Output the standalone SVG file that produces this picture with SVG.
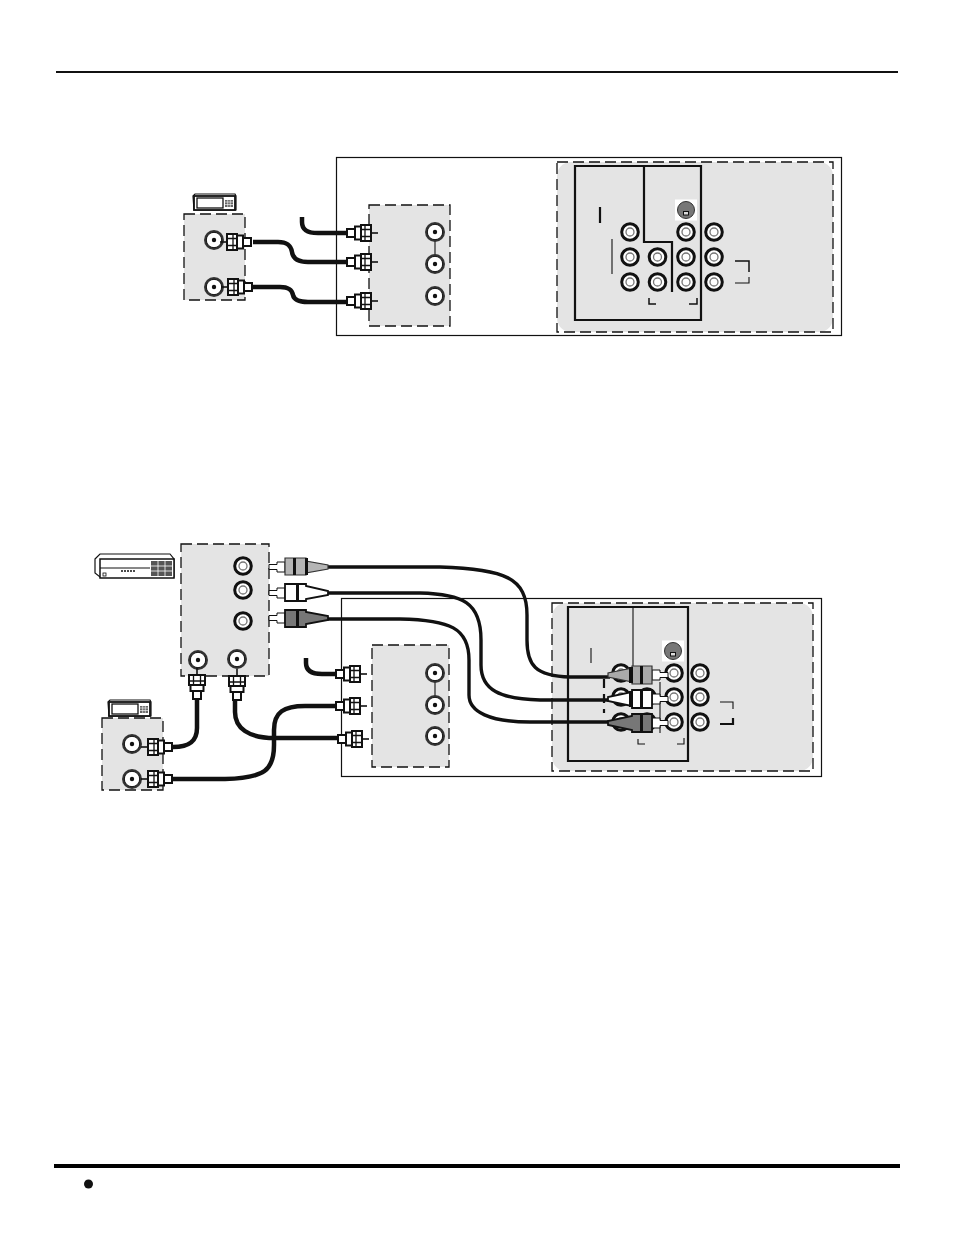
<svg xmlns="http://www.w3.org/2000/svg" width="954" height="1235" viewBox="0 0 954 1235">
<style>
.panel{fill:#e4e4e4;stroke:none}
.dash{fill:none;stroke:#111;stroke-width:1.300;stroke-dasharray:11 5}
.box{fill:none;stroke:#111;stroke-width:1.200}
.thick{fill:none;stroke:#111;stroke-width:2.200}
.thin{fill:none;stroke:#111;stroke-width:1.100}
.cable{fill:none;stroke:#111;stroke-width:4.500;stroke-linecap:butt}
.cablet{fill:none;stroke:#111;stroke-width:3.400;stroke-linecap:butt}
.part{fill:#fff;stroke:#111;stroke-width:2}
</style>
<defs>
<g id="rca"><circle r="8.300" fill="#fff" stroke="#111" stroke-width="3"/><circle r="4" fill="#fff" stroke="#777" stroke-width="1.300"/></g>
<g id="coax"><circle r="10" fill="#333"/><circle r="7.700" fill="#fff" stroke="#111" stroke-width="1"/><circle r="2.200" fill="#111"/></g>
<g id="fconn">
<rect x="0" y="-4" width="8" height="8" class="part"/>
<rect x="8" y="-6.500" width="6" height="13" class="part"/>
<rect x="14" y="-8" width="10" height="16" class="part"/>
<path d="M14-3.500H24M14 3.500H24M18-8V8" fill="none" stroke="#111" stroke-width="1.300"/>
<path d="M24 0H31" stroke="#111" stroke-width="1.600"/>
</g>
<g id="svid"><rect x="-11" y="-10.500" width="22" height="21" fill="#fff"/><circle r="8.500" fill="#777" stroke="#333"/><rect x="-2.500" y="1.500" width="5" height="3.500" fill="#ddd" stroke="#111"/></g>
<g id="plugpins"><path d="M0-2.500H8V-5H16V5H8V2.500H0Z" fill="#fff" stroke="#111" stroke-width="1"/></g>
<g id="tuner">
<path d="M0 2L2 0H42L43 2V16H1Z" fill="#fff" stroke="#111" stroke-width="1.200"/>
<rect x="1" y="2" width="41" height="14" fill="#fff" stroke="#111" stroke-width="1.800"/>
<rect x="4" y="4" width="26" height="10" fill="#fff" stroke="#111" stroke-width="1.300"/>
<rect x="32" y="6" width="8" height="7" fill="#666"/>
<path d="M32 8H40M32 10.500H40M34.700 6V13M37.300 6V13" stroke="#fff" stroke-width=".6"/>
</g>
</defs>
<rect width="954" height="1235" fill="#fff"/>
<g id="header-rule"><rect x="56" y="71" width="842" height="2" fill="#111"/></g>
<g id="footer-rule"><rect x="54" y="1164" width="846" height="4" fill="#000"/></g>
<g id="footer-bullet"><circle cx="88.500" cy="1184" r="4.500" fill="#111"/></g>

<g id="tv-top-frame"><rect x="336.500" y="157.500" width="505" height="178" class="box"/></g>
<g id="tuner-top"><use href="#tuner" x="193" y="194"/></g>
<g id="input-panel-top">
<rect x="184" y="214" width="61" height="86" class="panel"/><rect x="184" y="214" width="61" height="86" class="dash"/>
<use href="#coax" x="214" y="240"/><use href="#coax" x="214" y="287"/>
</g>
<g id="antenna-panel-top">
<rect x="369" y="205" width="81" height="121" class="panel"/><rect x="369" y="205" width="81" height="121" class="dash"/>
<path d="M435 232V264" class="thin"/>
<use href="#coax" x="435" y="232"/><use href="#coax" x="435" y="264"/><use href="#coax" x="435" y="296"/>
</g>
<g id="tv-jacks-top">
<rect x="557" y="162" width="276" height="170" rx="14" class="panel"/><rect x="557" y="162" width="276" height="170" class="dash"/>
<path d="M575 166H701V320H575Z" class="thick"/>
<path d="M644 166V242H672V292" class="thick"/>
<path d="M600 207V223" class="thick"/>
<path d="M612 239V274" class="thin"/>
<path d="M735 261H749V272" class="thick" style="stroke-width:1.500"/><path d="M735 283H749V277" class="thin"/>
<path d="M649 298V304H656" class="thick" style="stroke-width:1.500"/><path d="M689 304H697V298" class="thick" style="stroke-width:1.500"/>
<use href="#svid" x="686" y="210"/>
<use href="#rca" x="630" y="232"/><use href="#rca" x="686" y="232"/><use href="#rca" x="714" y="232"/>
<use href="#rca" x="630" y="257"/><use href="#rca" x="657.500" y="257"/><use href="#rca" x="686" y="257"/><use href="#rca" x="714" y="257"/>
<use href="#rca" x="630" y="282"/><use href="#rca" x="657.500" y="282"/><use href="#rca" x="686" y="282"/><use href="#rca" x="714" y="282"/>
</g>

<g id="connectors-top">
<path d="M302 217V222C302 231 309 233 318 233H347" class="cable"/>
<path d="M253 242H278C288 242 291 246 292 252C293 259 298 262 308 262H347" class="cable"/>
<path d="M253 287H280C289 287 292 290 293 295C294 300 299 302 308 302H347" class="cable"/>
<use href="#fconn" transform="translate(347 233)"/>
<use href="#fconn" transform="translate(347 262)"/>
<use href="#fconn" transform="translate(347 301)"/>
<use href="#fconn" transform="translate(251 242) scale(-1 1)"/>
<use href="#fconn" transform="translate(252 287) scale(-1 1)"/>
</g>

<g id="vcr"><path d="M95 559L100 554H170L174 559V577H100L95 573Z" fill="#fff" stroke="#111" stroke-width="1.200"/>
<rect x="100" y="559" width="74" height="19" fill="#fff" stroke="#111" stroke-width="1.500"/>
<path d="M100 568H150" stroke="#111"/><path d="M121 571H135" stroke="#111" stroke-width="1.500" stroke-dasharray="2 1"/>
<rect x="151" y="561" width="21" height="15" fill="#555"/><path d="M151 566H172M151 571H172M158 561V576M165 561V576" stroke="#fff" stroke-width=".8"/>
<rect x="103" y="573" width="3" height="3" fill="#fff" stroke="#111" stroke-width=".8"/></g>
<g id="vcr-panel">
<rect x="181" y="544" width="88" height="132" class="panel"/><rect x="181" y="544" width="88" height="132" class="dash"/>
<use href="#rca" x="243" y="566"/><use href="#rca" x="243" y="590"/><use href="#rca" x="243" y="621"/>
<use href="#coax" x="198" y="660"/><use href="#coax" x="237" y="659"/>
</g>
<g id="tuner-bottom"><use href="#tuner" x="108" y="700"/></g>
<g id="input-panel-bottom">
<rect x="102" y="718" width="61" height="72" class="panel"/><rect x="102" y="718" width="61" height="72" class="dash"/>
<use href="#coax" x="132" y="744"/><use href="#coax" x="132" y="779"/>
</g>
<g id="tv-frame-bottom"><rect x="341.500" y="598.500" width="480" height="178" class="box"/></g>
<g id="antenna-panel-bottom">
<rect x="372" y="645" width="77" height="122" class="panel"/><rect x="372" y="645" width="77" height="122" class="dash"/>
<path d="M435 673V705" class="thin"/>
<use href="#coax" x="435" y="673"/><use href="#coax" x="435" y="705"/><use href="#coax" x="435" y="736"/>
</g>
<g id="tv-jacks-bottom">
<rect x="552" y="603" width="261" height="168" rx="14" class="panel"/><rect x="552" y="603" width="261" height="168" class="dash"/>
<path d="M568 607H688V761H568Z" class="thick"/>
<path d="M633 607V668" class="thin"/>
<path d="M660 682V733" class="thin"/>
<path d="M591 648V663" class="thin"/>
<path d="M604 679V713" class="thick" style="stroke-dasharray:9 6"/>
<path d="M720 702H733V709" class="thin"/><path d="M720 724H733V718" class="thick"/>
<path d="M638 739V744H645" class="thin"/><path d="M677 744H684V738" class="thin"/>
<use href="#svid" x="673" y="651"/>
<use href="#rca" x="621" y="673"/><use href="#rca" x="674" y="673"/><use href="#rca" x="700" y="673"/>
<use href="#rca" x="621" y="697"/><use href="#rca" x="647" y="697"/><use href="#rca" x="674" y="697"/><use href="#rca" x="700" y="697"/>
<use href="#rca" x="621" y="722"/><use href="#rca" x="647" y="722"/><use href="#rca" x="674" y="722"/><use href="#rca" x="700" y="722"/>
</g>

<g id="connectors-bottom">
<path d="M328 567H440C505 569 527 578 527 615V640C527 665 535 676 570 677H610" class="cablet"/>
<path d="M328 593H420C462 594 481 602 481 640V665C481 690 500 699 540 700H610" class="cablet"/>
<path d="M328 619H400C450 620 469 628 469 660V695C469 712 490 722 530 722H610" class="cablet"/>
<path d="M306 658V663C306 671 312 674 322 674H336" class="cable"/>
<path d="M172 779H225C265 778 274 770 274 745V730C274 712 284 706 305 706H336" class="cable"/>
<path d="M235 700V712C235 728 248 738 275 738H338" class="cable"/>
<path d="M197 700V728C197 742 188 747 173 747" class="cable"/>
<use href="#fconn" transform="translate(336 674)"/>
<use href="#fconn" transform="translate(336 706)"/>
<use href="#fconn" transform="translate(338 739)"/>
<use href="#fconn" transform="translate(172 747) scale(-1 1)"/>
<use href="#fconn" transform="translate(172 779) scale(-1 1)"/>
<use href="#fconn" transform="translate(197 699) rotate(-90)"/>
<use href="#fconn" transform="translate(237 700) rotate(-90)"/>
</g>

<g id="plugs-vcr-side">
<use href="#plugpins" x="269" y="567"/>
<path d="M285 558H306V561L328 565V569L306 573V575H285Z" fill="#b5b5b5" stroke="#333" stroke-width="1.200"/><rect x="293" y="558" width="3" height="17" fill="#111"/><rect x="305" y="558" width="3" height="17" fill="#111"/>
<use href="#plugpins" x="269" y="593"/>
<path d="M285 584H306V586L328 591V595L306 599V601H285Z" fill="#fff" stroke="#111" stroke-width="1.800"/><rect x="296" y="584" width="3" height="17" fill="#111"/>
<use href="#plugpins" x="269" y="618"/>
<path d="M285 610H306V612L328 616V620L306 624V627H285Z" fill="#777" stroke="#111" stroke-width="1.800"/><rect x="296" y="610" width="3" height="17" fill="#111"/>
</g>
<g id="plugs-tv-side">
<use href="#plugpins" transform="translate(668 675) scale(-1 1)"/>
<path d="M652 666H632V668L608 673V677L632 682V684H652Z" fill="#aaa" stroke="#333" stroke-width="1.200"/><rect x="629" y="667" width="4" height="16" fill="#111"/><rect x="640" y="666" width="3" height="18" fill="#111"/>
<use href="#plugpins" transform="translate(668 699) scale(-1 1)"/>
<path d="M652 690H632V692L608 697V701L632 706V708H652Z" fill="#fff" stroke="#111" stroke-width="1.800"/><rect x="629" y="691" width="4" height="16" fill="#111"/><rect x="640" y="690" width="3" height="18" fill="#111"/>
<use href="#plugpins" transform="translate(668 723) scale(-1 1)"/>
<path d="M652 714H632V716L608 721V725L632 730V732H652Z" fill="#777" stroke="#111" stroke-width="1.800"/><rect x="640" y="714" width="3" height="18" fill="#111"/>
</g>
</svg>
